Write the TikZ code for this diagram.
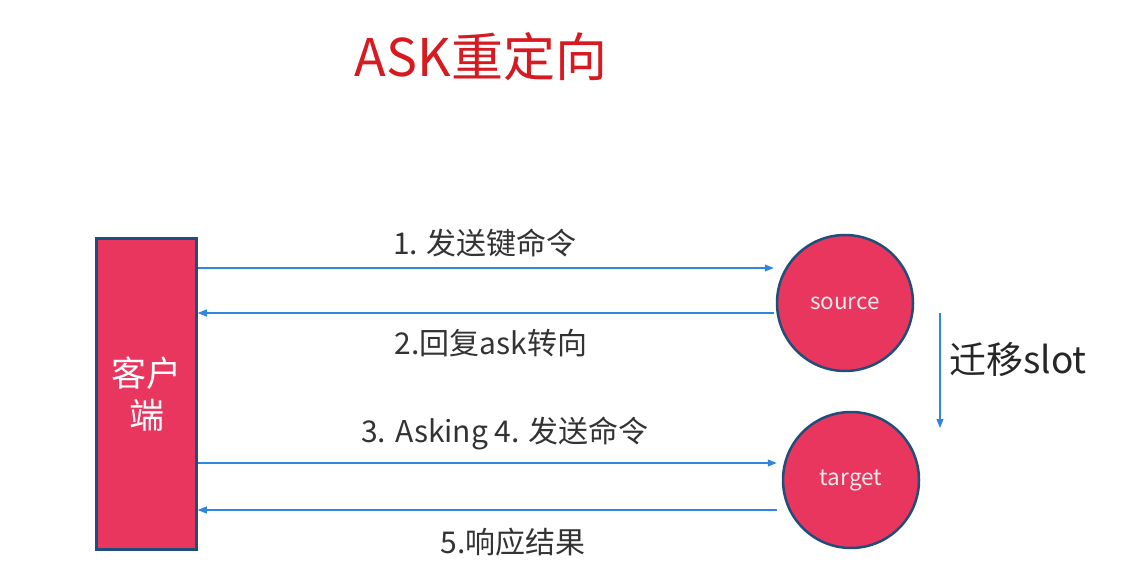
\documentclass[tikz,border=0pt]{standalone}
\usepackage{fontspec}
\setmainfont{Noto Sans CJK SC}
\usetikzlibrary{arrows.meta}
\definecolor{nodefill}{HTML}{E8365E}
\definecolor{nodeedge}{HTML}{1F4E79}
\definecolor{titlered}{HTML}{D71920}
\definecolor{flowblue}{HTML}{2E86DE}
\definecolor{labelgray}{HTML}{333333}
\tikzset{
  flow/.style={draw=flowblue, line width=1.1pt, -{Triangle[length=9pt,width=7pt]}},
  clientbox/.style={draw=nodeedge, line width=2.5pt, fill=nodefill, minimum width=100pt, minimum height=311pt, inner sep=0pt, text=white, font=\fontsize{35}{42}\selectfont, align=center},
  server/.style={circle, draw=nodeedge, line width=2.5pt, fill=nodefill, minimum size=136pt, inner sep=0pt, text=white!92!black, font=\fontsize{22.5}{26}\selectfont},
  msg/.style={text=labelgray, font=\fontsize{30}{34}\selectfont, inner sep=0pt}
}
\begin{document}
\begin{tikzpicture}[x=1pt,y=-1pt]
\useasboundingbox (0,0) rectangle (1135,585);
\node[text=titlered, font=\fontsize{52}{58}\selectfont, inner sep=0pt] (title) at (481,57) {ASK重定向};
\node[clientbox] (client) at (146.5,394) {客户\\端};
\node[server] (src) at (845,303) {source};
\node[server] (tgt) at (851,480) {target};
\draw[flow] (client.east |- 0,268) -- ([xshift=-2pt]src.west |- 0,268);
\draw[flow] ([xshift=-2pt]src.west |- 0,313) -- (client.east |- 0,313);
\draw[flow] (client.east |- 0,463) -- ([xshift=-5pt]tgt.west |- 0,463);
\draw[flow] ([xshift=-5pt]tgt.west |- 0,510) -- (client.east |- 0,510);
\node[msg] (l1) at (485,243) {1. 发送键命令};
\node[msg] (l2) at (491,343) {2.回复ask转向};
\node[msg] (l3) at (505,433) {3. Asking 4. 发送命令};
\node[msg] (l5) at (513,542) {5.响应结果};
\coordinate (m1) at (940,313);
\coordinate (m2) at (940,428);
\draw[flow] (m1) -- (m2);
\node[text=black!85, font=\fontsize{37}{42}\selectfont, inner sep=0pt, anchor=west] (mig) at (949,360) {迁移slot};
\end{tikzpicture}
\end{document}
